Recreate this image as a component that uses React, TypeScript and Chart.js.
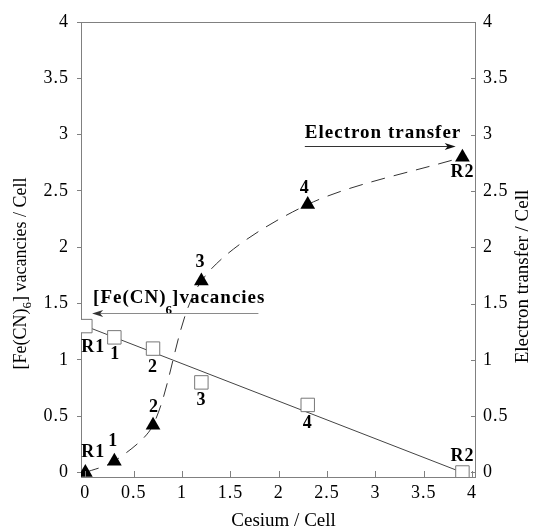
import React, { useEffect, useRef } from 'react';
import { Chart, registerables } from 'chart.js';

Chart.register(...registerables);

// ---- data ----
const cesium = [0, 0.3, 0.7, 1.2, 2.3, 3.9];
const vacancies = [1.3, 1.2, 1.1, 0.8, 0.6, 0.0];
const electronTransfer = [0, 0.1, 0.42, 1.7, 2.38, 2.8];
const sampleLabels = ['R1', '1', '2', '3', '4', 'R2'];
const fitCesium = [0, 3.9];
const fitVacancies = [1.3, 0.0];
const xTicks = [0, 0.5, 1, 1.5, 2, 2.5, 3, 3.5, 4];
const yTicks = [0, 0.5, 1, 1.5, 2, 2.5, 3, 3.5, 4];

const xTitle = 'Cesium / Cell';
const yRightTitle = 'Electron transfer / Cell';
const yLeftTitleParts = ['[Fe(CN)', '6', '] vacancies / Cell'];
const vacNoteParts = ['[Fe(CN)', '6', ']vacancies'];
const etNote = 'Electron transfer';

const AXIS = '#808080';
const SERIF = '"Liberation Serif", "Times New Roman", serif';

export default function App() {
  const ref = useRef<HTMLCanvasElement | null>(null);

  useEffect(() => {
    if (!ref.current) return;
    // label offsets in pixels relative to the marker
    const sqOff = [[8, 21], [1, 17], [0, 19], [0, 18], [0, 18], [0, -16]];
    const trOff = [[8, -20], [-1, -20], [1, -18], [-1, -19], [-3, -16], [0, 15]];

    const annot = {
      id: 'annot',
      beforeDraw(chart: any) {
        chart.ctx.letterSpacing = '1px';
      },
      afterDraw(chart: any) {
        const ctx = chart.ctx as CanvasRenderingContext2D;
        const { left, right, top, bottom } = chart.chartArea;
        const xs = chart.scales.x;
        const ys = chart.scales.y;
        const y2 = chart.scales.y2;
        ctx.save();
        // top frame + inner ticks
        ctx.strokeStyle = AXIS;
        ctx.lineWidth = 1;
        ctx.beginPath();
        ctx.moveTo(left, top + 0.5);
        ctx.lineTo(right, top + 0.5);
        xTicks.forEach((v) => {
          const px = Math.round(xs.getPixelForValue(v)) + 0.5;
          ctx.moveTo(px, bottom);
          ctx.lineTo(px, bottom - 6);
        });
        yTicks.forEach((v) => {
          const py = Math.round(y2.getPixelForValue(v)) + 0.5;
          ctx.moveTo(right, py);
          ctx.lineTo(right - 4, py);
        });
        ctx.stroke();

        // point labels
        ctx.fillStyle = '#000';
        ctx.font = 'bold 18px ' + SERIF;
        ctx.textAlign = 'center';
        ctx.textBaseline = 'middle';
        (ctx as any).letterSpacing = '1px';
        sampleLabels.forEach((t, i) => {
          const px = xs.getPixelForValue(cesium[i]);
          const py = ys.getPixelForValue(vacancies[i]);
          ctx.fillText(t, px + sqOff[i][0], py + sqOff[i][1]);
          const ty = y2.getPixelForValue(electronTransfer[i]);
          ctx.fillText(t, px + trOff[i][0], ty + trOff[i][1]);
        });

        // vacancies note
        ctx.textAlign = 'left';
        let x0 = xs.getPixelForValue(0.08);
        const yv = ys.getPixelForValue(1.55);
        ctx.font = 'bold 19px ' + SERIF;
        ctx.fillText(vacNoteParts[0], x0, yv);
        x0 += ctx.measureText(vacNoteParts[0]).width - 1;
        ctx.font = 'bold 13px ' + SERIF;
        ctx.fillText(vacNoteParts[1], x0, yv + 13);
        x0 += ctx.measureText(vacNoteParts[1]).width - 1;
        ctx.font = 'bold 19px ' + SERIF;
        ctx.fillText(vacNoteParts[2], x0, yv);

        // vacancies arrow (pointing left)
        const ay = Math.round(ys.getPixelForValue(1.415)) + 0.5;
        const ax0 = xs.getPixelForValue(0.07);
        const ax1 = xs.getPixelForValue(1.79);
        ctx.strokeStyle = '#8a8a8a';
        ctx.beginPath();
        ctx.moveTo(ax1, ay);
        ctx.lineTo(ax0 + 4, ay);
        ctx.stroke();
        ctx.fillStyle = '#333';
        ctx.beginPath();
        ctx.moveTo(ax0, ay);
        ctx.lineTo(ax0 + 11, ay - 3.5);
        ctx.lineTo(ax0 + 8, ay);
        ctx.lineTo(ax0 + 11, ay + 3.5);
        ctx.closePath();
        ctx.fill();

        // electron transfer note
        ctx.fillStyle = '#000';
        ctx.font = 'bold 19px ' + SERIF;
        const ex0 = xs.getPixelForValue(2.27);
        ctx.fillText(etNote, ex0, y2.getPixelForValue(3.01));
        const ey = Math.round(y2.getPixelForValue(2.9)) + 0.5;
        const ex1 = xs.getPixelForValue(3.83);
        ctx.strokeStyle = '#333';
        ctx.beginPath();
        ctx.moveTo(ex0, ey);
        ctx.lineTo(ex1 - 4, ey);
        ctx.stroke();
        ctx.fillStyle = '#111';
        ctx.beginPath();
        ctx.moveTo(ex1, ey);
        ctx.lineTo(ex1 - 11, ey - 3.5);
        ctx.lineTo(ex1 - 8, ey);
        ctx.lineTo(ex1 - 11, ey + 3.5);
        ctx.closePath();
        ctx.fill();

        // axis titles
        ctx.fillStyle = '#000';
        (ctx as any).letterSpacing = '0px';
        ctx.font = '19px ' + SERIF;
        ctx.textAlign = 'center';
        ctx.textBaseline = 'alphabetic';
        ctx.fillText(xTitle, xs.getPixelForValue(2.05), chart.height - 3);

        // right title (rotated, reading bottom to top)
        ctx.save();
        ctx.translate(chart.width - 6, (top + bottom) / 2 + 27);
        ctx.rotate(-Math.PI / 2);
        ctx.textBaseline = 'alphabetic';
        ctx.fillText(yRightTitle, 0, 0);
        ctx.restore();

        // left title with subscript
        ctx.save();
        ctx.font = '18px ' + SERIF;
        const w0 = ctx.measureText(yLeftTitleParts[0]).width;
        const w2 = ctx.measureText(yLeftTitleParts[2]).width;
        ctx.font = '13px ' + SERIF;
        const w1 = ctx.measureText(yLeftTitleParts[1]).width;
        const total = w0 + w1 + w2;
        ctx.translate(26, (top + bottom) / 2 + 24);
        ctx.rotate(-Math.PI / 2);
        ctx.textAlign = 'left';
        let cx = -total / 2;
        ctx.font = '18px ' + SERIF;
        ctx.fillText(yLeftTitleParts[0], cx, 0);
        cx += w0;
        ctx.font = '13px ' + SERIF;
        ctx.fillText(yLeftTitleParts[1], cx, 5);
        cx += w1;
        ctx.font = '18px ' + SERIF;
        ctx.fillText(yLeftTitleParts[2], cx, 0);
        ctx.restore();

        ctx.restore();
        (ctx as any).letterSpacing = '0px';
      },
    };

    const tickFont = { family: SERIF, size: 18 };
    const fmt = (v: any) => String(Number(v));
    const setTicks = (vals: number[]) => (axis: any) => {
      axis.ticks = vals.map((v) => ({ value: v }));
    };

    const chart = new Chart(ref.current, {
      type: 'scatter',
      data: {
        datasets: [
          {
            label: 'vacancies',
            data: cesium.map((x, i) => ({ x, y: vacancies[i] })),
            yAxisID: 'y',
            showLine: false,
            pointStyle: 'rect',
            pointRadius: 9.5,
            pointHoverRadius: 9.5,
            backgroundColor: '#ffffff',
            borderColor: '#777777',
            borderWidth: 1,
          },
          {
            label: 'fit',
            data: fitCesium.map((x, i) => ({ x, y: fitVacancies[i] })),
            yAxisID: 'y',
            showLine: true,
            pointRadius: 0,
            borderColor: '#444444',
            borderWidth: 1,
          },
          {
            label: 'electron transfer',
            data: cesium.map((x, i) => ({ x, y: electronTransfer[i] })),
            yAxisID: 'y2',
            showLine: true,
            tension: 0.3,
            borderDash: [14, 9],
            borderColor: '#333333',
            borderWidth: 1,
            pointStyle: 'triangle',
            pointRadius: 8.5,
            pointHoverRadius: 8.5,
            pointBackgroundColor: '#000000',
            pointBorderColor: '#000000',
            pointBorderWidth: 0,
          } as any,
        ],
      },
      options: {
        animation: false,
        responsive: false,
        events: [],
        layout: { padding: { top: 22, left: 0, right: 0, bottom: 0 } },
        plugins: { legend: { display: false }, tooltip: { enabled: false } },
        scales: {
          x: {
            type: 'linear',
            position: 'bottom',
            min: -0.045,
            max: 4.03,
            afterBuildTicks: setTicks(xTicks),
            afterFit: (s: any) => { s.height = 52; },
            grid: { display: false, drawTicks: false },
            border: { display: true, color: AXIS, width: 1 },
            ticks: { font: tickFont, color: '#000', padding: 5, maxRotation: 0, callback: fmt },
          },
          y: {
            type: 'linear',
            position: 'left',
            min: -0.04,
            max: 4,
            afterBuildTicks: setTicks(yTicks),
            afterFit: (s: any) => { s.width = 81; },
            grid: { display: true, drawOnChartArea: false, drawTicks: true, tickLength: 4, tickColor: AXIS },
            border: { display: true, color: AXIS, width: 1 },
            ticks: { font: tickFont, color: '#000', padding: 8, callback: fmt },
          },
          y2: {
            type: 'linear',
            position: 'right',
            min: -0.04,
            max: 4,
            afterBuildTicks: setTicks(yTicks),
            afterFit: (s: any) => { s.width = 59; },
            grid: { display: false, drawTicks: false },
            border: { display: true, color: AXIS, width: 1 },
            ticks: { font: tickFont, color: '#000', padding: 8, callback: fmt },
          },
        },
      } as any,
      plugins: [annot],
    });
    return () => chart.destroy();
  }, []);

  return (
    <div style={{ position: 'fixed', left: 0, top: 0, width: 534, height: 529, background: '#fff' }}>
      <canvas ref={ref} width={534} height={529} style={{ display: 'block' }} />
    </div>
  );
}
